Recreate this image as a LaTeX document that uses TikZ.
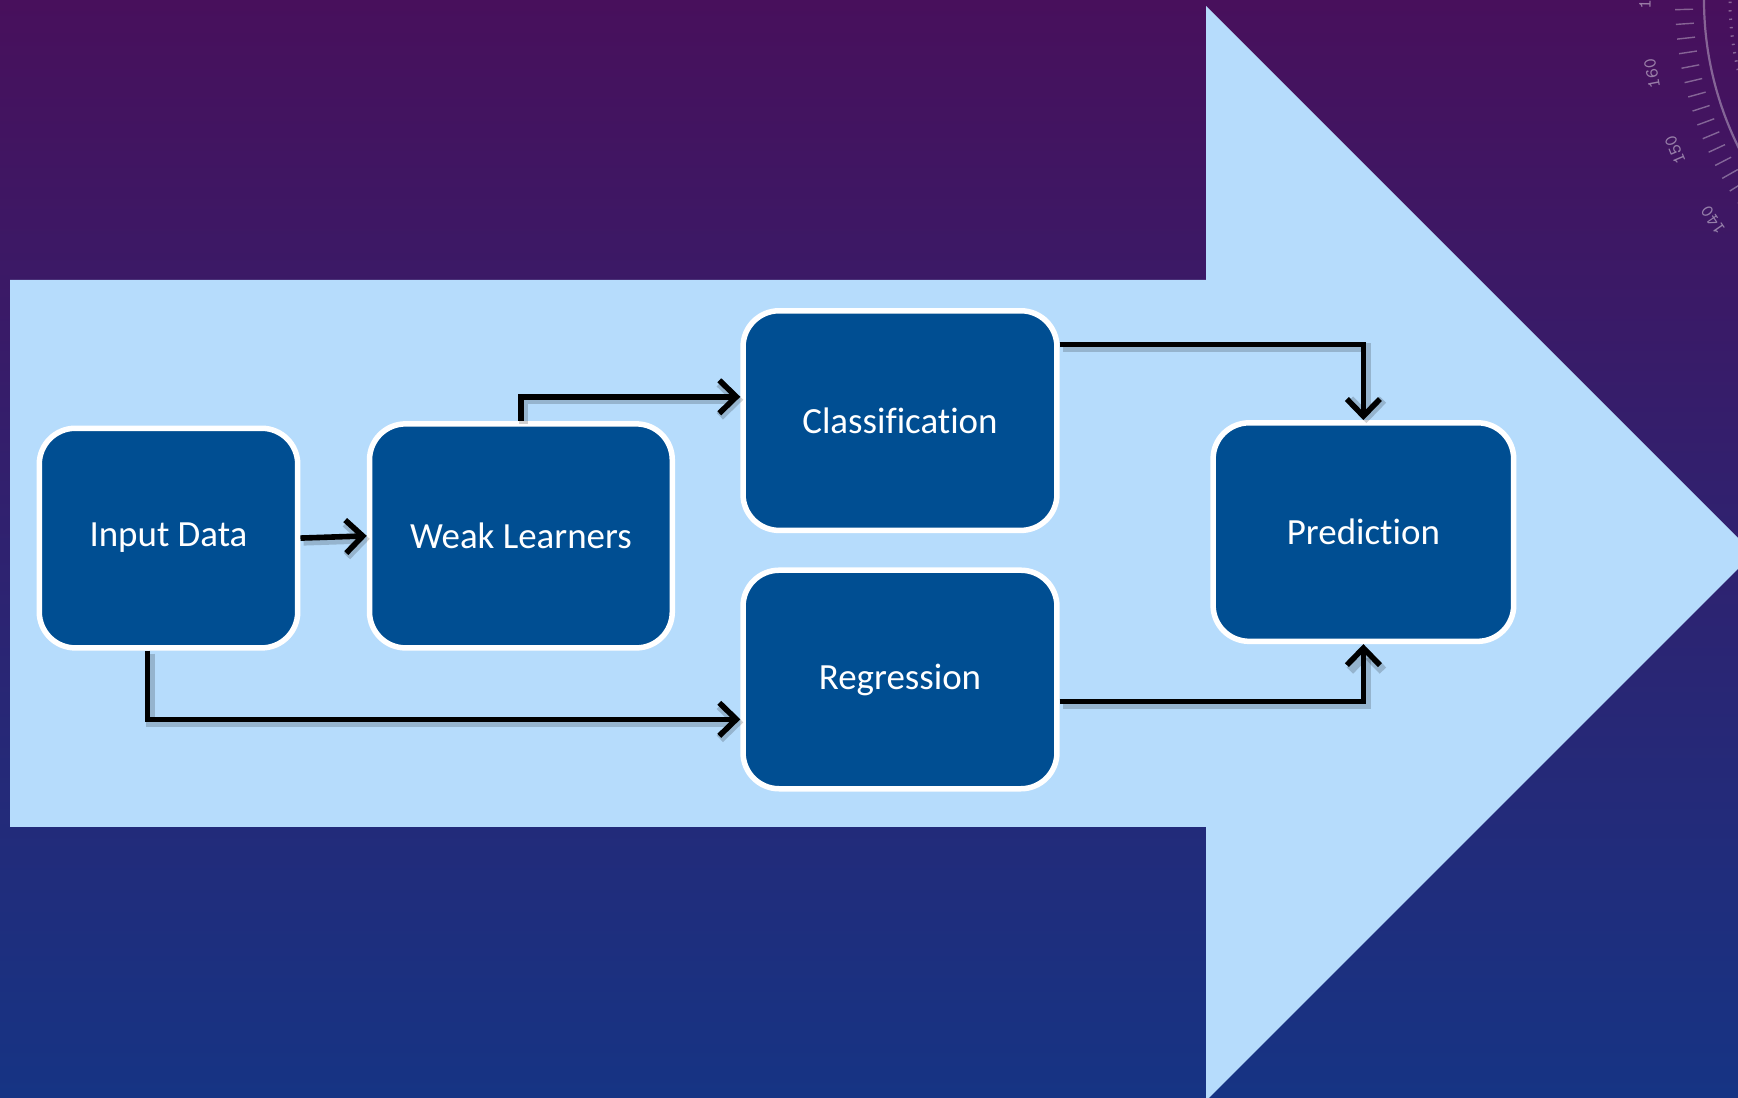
\documentclass[tikz,border=0pt]{standalone}
\usepackage{fontspec}
\setmainfont{Carlito}[Ligatures=NoCommon]
\usetikzlibrary{arrows.meta}
\definecolor{skyb}{RGB}{182,220,252}
\definecolor{boxb}{RGB}{0,78,146}
\definecolor{bgtop}{RGB}{72,16,92}
\definecolor{bgmid}{RGB}{44,28,106}
\definecolor{bgbot}{RGB}{22,52,132}
\begin{document}
\begin{tikzpicture}[x=0.01cm,y=-0.01cm,
  stagebox/.style={draw=white, line width=0.055cm, fill=boxb, rounded corners=0.36cm,
    text=white, font=\fontsize{10.5}{12}\selectfont, inner sep=0pt, align=center},
  conn/.style={draw=black, line width=0.056cm, line join=miter,
    preaction={draw=black, draw opacity=0.18, line width=0.09cm, transform canvas={shift={(0.03cm,-0.03cm)}}},
    -{Straight Barb[length=1.7mm,width=3.3mm]}},
  dial/.style={draw=white, draw opacity=0.35, line width=0.014cm},
  dialnum/.style={text=white, text opacity=0.45, font=\ttfamily\fontsize{5.3}{6}\selectfont, inner sep=0pt}]
\useasboundingbox (0,0) rectangle (1738,1098);
% background
\shade[top color=bgtop, middle color=bgmid, bottom color=bgbot] (0,0) rectangle (1738,1098);
% protractor decoration
\begin{scope}
\clip (0,0) rectangle (1738,1098);
\begin{scope}[shift={(2036,0)}, x=0.01cm, y=0.01cm]
  \draw[dial, line width=0.022cm] (172:332) arc[start angle=172, end angle=212, radius=332];
  \draw[dial, dotted, line width=0.03cm] (174:306) arc[start angle=174, end angle=198, radius=306];
  \foreach \a in {172.18,174.52,...,216} {
    \draw[dial] (\a:343) -- (\a:361);
  }
  \node[dialnum, rotate=89.2]  (n170) at (179.2:391) {170};
  \node[dialnum, rotate=100.9] (n160) at (190.9:391) {160};
  \node[dialnum, rotate=112.6] (n150) at (202.6:391) {150};
  \node[dialnum, rotate=124.3] (n140) at (214.3:391) {140};
\end{scope}
\end{scope}
% big arrow
\fill[skyb] (10,280) -- (1206,280) -- (1206,6) -- (1753.5,553.5) -- (1206,1101)
  -- (1206,827) -- (10,827) -- cycle;
% stages
\node[stagebox, minimum width=2.583cm, minimum height=2.195cm] (in)   at (168.5,538.1) {Input Data};
\node[stagebox, minimum width=3.026cm, minimum height=2.239cm] (wl)   at (520.9,535.9) {Weak Learners};
\node[stagebox, minimum width=3.137cm, minimum height=2.195cm] (cls)  at (900,420.6)   {Classification};
\node[stagebox, minimum width=3.137cm, minimum height=2.184cm] (reg)  at (900,679.5)   {Regression};
\node[stagebox, minimum width=3.004cm, minimum height=2.184cm] (pred) at (1363.4,532.1) {Prediction};
% connectors
\draw[conn] (in.east) -- (wl.west);
\draw[conn] (wl.north) |- ([yshift=0.238cm]cls.west);
\draw[conn] ([xshift=-0.211cm]in.south) |- ([yshift=-0.398cm]reg.west);
\draw[conn] ([yshift=0.759cm]cls.east) -| (pred.north);
\draw[conn] ([yshift=-0.221cm]reg.east) -| (pred.south);
\end{tikzpicture}
\end{document}
